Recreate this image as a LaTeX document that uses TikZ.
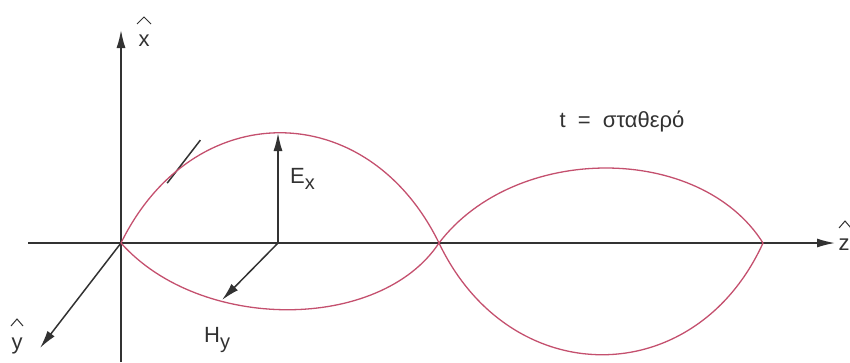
\documentclass[tikz,border=0pt]{standalone}
\usepackage{fontspec}
\setmainfont{Liberation Sans}
\usetikzlibrary{arrows.meta,calc}
\definecolor{axisc}{RGB}{50,50,50}
\definecolor{wavec}{RGB}{196,80,110}
\newcommand\lowsub[1]{\raisebox{-0.3em}{\fontsize{20}{22}\selectfont #1}}
\begin{document}
\begin{tikzpicture}[x=1pt,y=-1pt,
 axis/.style={draw=axisc,line width=1.5pt},
 arr/.style={-{Latex[length=18pt,width=9pt]}},
 wave/.style={draw=wavec,line width=1.3pt},
 lbl/.style={text=axisc,font=\fontsize{22}{26}\selectfont,inner sep=0pt},
 hatline/.style={draw=axisc,line width=1pt}]
\useasboundingbox (0,0) rectangle (850,362);
\coordinate (O) at (121,243);
\coordinate (zl) at (28,243);
\coordinate (zt) at (835,243);
\coordinate (xb) at (121,362);
\coordinate (xt) at (121,30);
\coordinate (yt) at (40,348);
\coordinate (N1) at (439,243);
\coordinate (N2) at (763,243);
\coordinate (P) at (278,243);
\coordinate (Ep) at (278,133);
\coordinate (Hp) at (222,300);
% axes
\draw[axis,arr] (zl) -- (zt);
\draw[axis,arr] (xb) -- (xt);
\draw[axis,arr] (O) -- (yt);
\draw[axis] ($(O)!-0.57!(yt)$) -- ($(O)!-0.98!(yt)$);
% waves
\draw[wave] (O) .. controls (193,96) and (367,96) .. (N1);
\draw[wave] (O) .. controls (200,332) and (380,332) .. (N1);
\draw[wave] (N1) .. controls (515,143) and (700,143) .. (N2);
\draw[wave] (N1) .. controls (510,392) and (695,392) .. (N2);
% field vectors
\draw[axis,arr] (P) -- (Ep);
\draw[axis,arr] (P) -- (Hp);
% labels
\node[lbl,anchor=base west] (ex) at (290,183) {E\lowsub{x}};
\node[lbl,anchor=base west] (hy) at (204,342) {H\lowsub{y}};
\node[lbl] (tc) at (622,121) {t \;=\; σταθερό};
\node[lbl,anchor=base] (xl) at (144,46) {x};
\node[lbl,anchor=base] (yl) at (17,349) {y};
\node[lbl,anchor=base] (zl2) at (844,250) {z};
\draw[hatline] ($(xl.base)+(-7,-22)$) -- ++(7,-7) -- ++(7,7);
\draw[hatline] ($(yl.base)+(-6,-23)$) -- ++(6,-7) -- ++(6,7);
\draw[hatline] ($(zl2.base)+(-5,-22)$) -- ++(6,-7) -- ++(6,7);
\end{tikzpicture}
\end{document}
